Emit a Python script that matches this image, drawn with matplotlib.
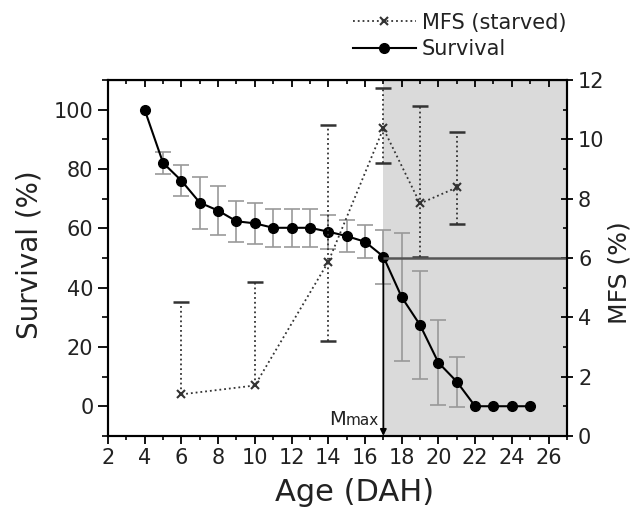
import numpy as np
import matplotlib
matplotlib.use("Agg")
import matplotlib.pyplot as plt
from matplotlib.ticker import MultipleLocator

# survival (%) by age (days after hatching)
age = [4, 5, 6, 7, 8, 9, 10, 11, 12, 13, 14, 15, 16, 17, 18, 19, 20, 21, 22, 23, 24, 25]
survival = [100, 82.1, 76.1, 68.7, 66.0, 62.4, 61.7, 60.2, 60.2, 60.2, 58.9, 57.4, 55.5, 50.5,
            36.8, 27.4, 14.7, 8.3, 0, 0, 0, 0]
survival_err = [np.nan, 3.8, 5.3, 8.8, 8.2, 7.0, 7.0, 6.5, 6.5, 6.5, 5.7, 5.5, 5.5, 9.1,
                21.5, 18.2, 14.4, 8.4, np.nan, np.nan, np.nan, np.nan]

# MFS of starved larvae (%)
mfs_age = [6, 10, 14, 17, 19, 21]
mfs = [1.40, 1.70, 5.87, 10.37, 7.84, 8.38]
mfs_hi = [4.53, 5.18, 10.48, 11.72, 11.13, 10.26]
mfs_lo = [np.nan, np.nan, 3.21, 9.21, 6.04, 7.15]

mmax_age = 17
mmax_mfs = 6

fig = plt.figure(figsize=(6.37, 5.14), dpi=100)
ax = fig.add_axes([0.1695, 0.152, 0.7205, 0.692])
ax2 = ax.twinx()

ax.set_xlim(2, 27)
ax.set_ylim(-10, 110)
ax2.set_ylim(0, 12)

# shaded area after Mmax
ax.axvspan(mmax_age, 27, color="#dadada", zorder=0, lw=0)

# survival
ax.errorbar(age, survival, yerr=survival_err, fmt="none", ecolor="#999999",
            elinewidth=1.2, capsize=6, capthick=1.2, zorder=2)
ax.plot(age, survival, "-o", color="black", lw=1.5, ms=7, zorder=3, label="Survival")

# Mmax arrow
surv_at_mmax = survival[age.index(mmax_age)]
ax.annotate("", xy=(mmax_age, -10), xytext=(mmax_age, surv_at_mmax),
            arrowprops=dict(arrowstyle="-|>", color="black", lw=1.3,
                            mutation_scale=9, shrinkA=0, shrinkB=0), zorder=4)
t = ax.text(16.75, -6.3, "max", fontsize=11, ha="right", va="baseline", color="#222222")
fig.canvas.draw()
w = t.get_window_extent().width
ax.annotate("M", xy=(16.75, -6.3), xytext=(-w, 0), textcoords="offset pixels",
            fontsize=14, ha="right", va="baseline", color="#222222")

# MFS
mfs_base = [m if np.isnan(l) else l for m, l in zip(mfs, mfs_lo)]
ax2.vlines(mfs_age, mfs_base, mfs_hi, colors="#333333", linestyles=":", lw=1.3)
ax2.plot(mfs_age, mfs_hi, "_", color="#333333", ms=12, mew=1.8)
ax2.plot(mfs_age, mfs_lo, "_", color="#333333", ms=12, mew=1.8)
ax2.plot(mfs_age, mfs, ":x", color="#333333", lw=1.3, ms=6, mew=1.5, label="MFS (starved)")
ax2.hlines(mmax_mfs, mmax_age, 27, colors="#555555", lw=1.8)

# ticks
ax.set_xticks(range(2, 27, 2))
ax.xaxis.set_minor_locator(MultipleLocator(1))
ax.set_yticks(range(0, 101, 20))
ax.yaxis.set_minor_locator(MultipleLocator(10))
ax2.set_yticks(range(0, 13, 2))
ax2.yaxis.set_minor_locator(MultipleLocator(1))

ax.tick_params(axis="x", which="major", direction="out", length=6, width=1.3, labelsize=15,
               pad=3, labelcolor="#222222")
ax.tick_params(axis="x", which="minor", direction="out", length=3, width=1.2)
ax.tick_params(axis="y", which="major", direction="out", length=7, width=1.3, labelsize=15,
               labelcolor="#222222")
ax.tick_params(axis="y", which="minor", direction="out", length=4, width=1.2)
ax2.tick_params(axis="y", which="major", direction="inout", length=9, width=1.3, labelsize=15,
                labelcolor="#222222")
ax2.tick_params(axis="y", which="minor", direction="in", length=3, width=1.2)
for a in (ax, ax2):
    for s in a.spines.values():
        s.set_linewidth(1.5)

top = ax.secondary_xaxis("top")
top.set_xticks(range(2, 27, 2))
top.xaxis.set_minor_locator(MultipleLocator(1))
top.tick_params(which="major", direction="in", length=5, width=1.3, labeltop=False)
top.tick_params(which="minor", direction="in", length=3, width=1.2)

# labels
fig.text(0.557, 0.041, "Age (DAH)", fontsize=22, ha="center", va="center", color="#222222")
fig.text(0.047, 0.505, "Survival (%)", fontsize=20, rotation=90, ha="center", va="center", color="#222222")
fig.text(0.973, 0.47, "MFS (%)", fontsize=18, rotation=90, ha="center", va="center", color="#222222")

h1, l1 = ax2.get_legend_handles_labels()
h2, l2 = ax.get_legend_handles_labels()
fig.legend(h1 + h2, l1 + l2, loc="upper left", bbox_to_anchor=(0.525, 1.012), frameon=False,
           fontsize=15, handlelength=3, handletextpad=0.3, labelspacing=0.3,
           labelcolor="#222222")

fig.savefig("out.png", dpi=100)
